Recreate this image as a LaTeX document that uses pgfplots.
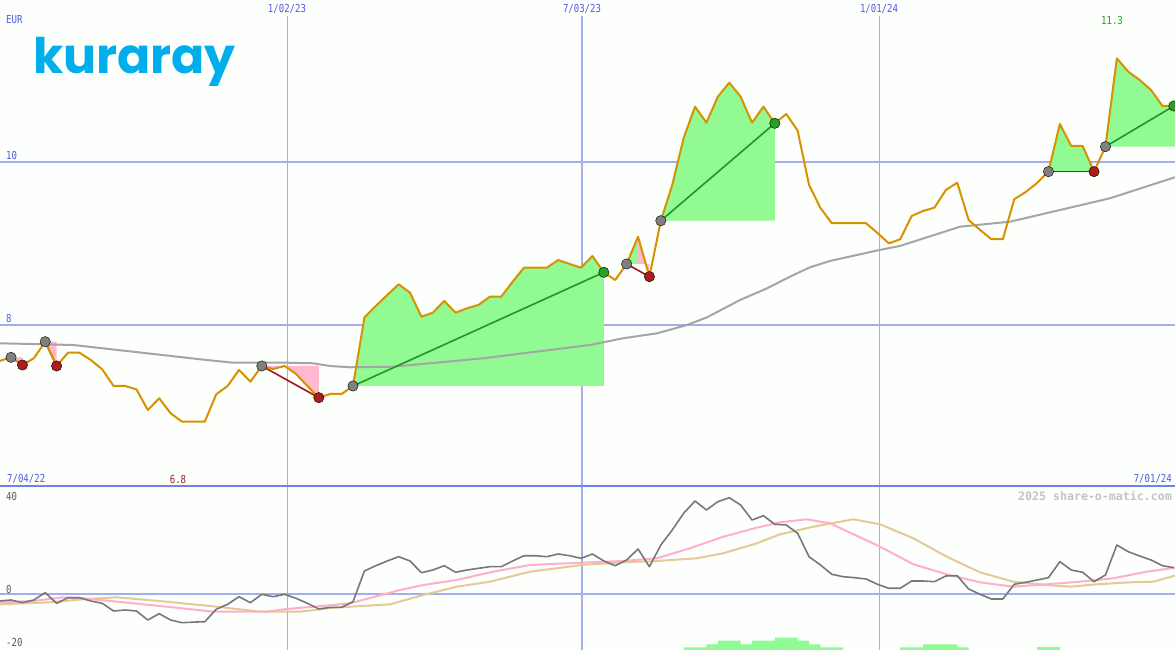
\documentclass[border=0pt]{standalone}
\usepackage{pgfplots}
\pgfplotsset{compat=1.18}
\usepackage{fontspec}
\newfontfamily\pixfont[FakeStretch=0.82]{DejaVu Sans Mono}
\newfontfamily\wmfont{DejaVu Sans Mono}
\newfontfamily\logofont{Poppins}
\definecolor{bg}{RGB}{252,255,252}
\definecolor{gridblue}{RGB}{162,174,240}
\definecolor{sepblue}{RGB}{112,128,236}
\definecolor{lblblue}{RGB}{80,90,225}
\definecolor{pricecol}{RGB}{214,146,0}
\definecolor{magray}{RGB}{165,165,165}
\definecolor{gainfill}{RGB}{146,250,146}
\definecolor{lossfill}{RGB}{255,184,204}
\definecolor{gainline}{RGB}{34,150,34}
\definecolor{lossline}{RGB}{160,24,24}
\definecolor{entrygray}{RGB}{128,128,128}
\definecolor{exitred}{RGB}{170,30,30}
\definecolor{exitgreen}{RGB}{40,160,40}
\definecolor{oscgray}{RGB}{120,120,120}
\definecolor{oscpink}{RGB}{255,176,200}
\definecolor{osctan}{RGB}{228,202,150}
\definecolor{logocol}{RGB}{0,174,235}
\definecolor{wmgray}{RGB}{195,195,195}
\definecolor{lblgray}{RGB}{90,90,90}

\pgfplotstableread{
k v
0 7.559
1 7.604
2 7.510
3 7.592
4 7.795
5 7.498
6 7.661
7 7.661
8 7.571
9 7.457
10 7.253
11 7.253
12 7.212
13 6.959
14 7.102
15 6.919
16 6.816
17 6.816
18 6.816
19 7.151
20 7.253
21 7.449
22 7.306
23 7.498
24 7.461
25 7.498
26 7.400
27 7.253
28 7.110
29 7.155
30 7.155
31 7.253
32 8.094
33 8.233
34 8.367
35 8.498
36 8.396
37 8.102
38 8.151
39 8.294
40 8.151
41 8.205
42 8.245
43 8.347
44 8.347
45 8.530
46 8.702
47 8.702
48 8.702
49 8.796
50 8.747
51 8.702
52 8.845
53 8.645
54 8.551
55 8.747
56 9.081
57 8.592
58 9.277
59 9.715
60 10.290
61 10.674
62 10.478
63 10.796
64 10.968
65 10.796
66 10.478
67 10.674
68 10.470
69 10.584
70 10.380
71 9.715
72 9.433
73 9.246
74 9.246
75 9.246
76 9.246
77 9.127
78 9.000
79 9.050
80 9.335
81 9.396
82 9.437
83 9.653
84 9.743
85 9.286
86 9.164
87 9.050
88 9.050
89 9.540
90 9.628
91 9.739
92 9.878
93 10.462
94 10.192
95 10.192
96 9.878
97 10.184
98 11.266
99 11.102
100 11.000
101 10.878
102 10.682
103 10.682
}\price

\pgfplotstableread{
k v
0 7.776
6.44 7.755
11.70 7.673
17.58 7.580
20.47 7.538
25.21 7.538
27.49 7.531
28.98 7.498
30.74 7.482
34.51 7.489
42.40 7.592
51.79 7.755
54.68 7.837
57.67 7.898
60.30 8.000
62.05 8.094
64.95 8.306
67.32 8.449
69.33 8.592
71.09 8.707
72.84 8.784
77.23 8.920
78.98 8.968
84.25 9.204
88.63 9.265
92.40 9.388
97.40 9.552
103.1 9.809
}\mavg

\pgfplotstableread{
k v
0 -2.79
1 -2.38
2 -3.50
3 -2.38
4 0.67
5 -3.75
6 -1.42
7 -1.42
8 -2.79
9 -3.75
10 -6.96
11 -6.54
12 -6.96
13 -10.71
14 -8.08
15 -10.71
16 -11.83
17 -11.60
18 -11.42
19 -6.25
20 -4.17
21 -1.00
22 -3.50
23 0.00
24 -1.00
25 0.00
26 -1.67
27 -3.75
28 -6.13
29 -5.42
30 -5.42
31 -3.08
32 9.71
33 11.92
34 13.88
35 15.67
36 13.88
37 9.00
38 10.13
39 11.92
40 9.17
41 10.13
42 10.83
43 11.50
44 11.50
45 13.88
46 16.08
47 16.08
48 15.67
49 16.79
50 16.08
51 15.00
52 16.79
53 13.88
54 11.92
55 14.29
56 18.88
57 11.50
58 20.54
59 26.79
60 33.75
61 38.88
62 35.13
63 38.58
64 40.25
65 37.21
66 30.96
67 32.75
68 29.17
69 28.88
70 25.42
71 15.67
72 12.21
73 8.33
74 7.33
75 6.92
76 6.38
77 4.17
78 2.50
79 2.50
80 5.54
81 5.54
82 5.25
83 7.63
84 7.75
85 2.21
86 0.00
87 -1.96
88 -1.96
89 4.17
90 5.00
91 5.96
92 6.92
93 13.58
94 10.13
95 9.17
96 5.25
97 8.04
98 20.54
99 17.75
100 15.96
101 14.29
102 11.92
103 11.08
}\osc

\pgfplotstableread{
k v
0 -3.33
2.96 -2.79
5.59 -1.25
7.34 -1.67
11.73 -3.75
14.66 -5.17
18.75 -7.25
23.43 -7.25
25.18 -6.13
29.27 -4.46
30.74 -3.75
34.25 0.67
35.12 1.79
37.17 3.88
40.10 5.96
43.02 9.17
46.53 12.21
51.06 13.17
54.71 13.88
57.64 15.00
60.56 19.17
63.48 24.00
66.41 27.75
68.46 30.00
70.80 31.25
72.84 29.58
77.23 19.83
80.15 12.50
83.08 8.33
85.99 5.00
88.92 3.17
91.85 4.17
94.77 5.25
97.69 6.67
100.62 9.42
103.1 11.08
}\oscpinkt

\pgfplotstableread{
k v
0 -4.17
4.42 -3.33
7.34 -2.08
10.27 -1.25
14.66 -3.08
19.04 -5.17
22.84 -7.25
26.35 -7.25
29.27 -5.58
32.20 -4.75
34.25 -4.17
37.17 -0.29
40.10 3.17
43.02 5.25
46.53 9.42
51.06 12.21
54.71 13.33
57.64 13.88
61.15 15.00
63.48 17.08
66.41 21.25
68.46 25.00
71.38 28.17
74.89 31.25
77.23 29.17
80.15 23.33
83.08 15.67
85.99 9.17
88.92 5.25
91.85 3.88
93.90 3.17
96.24 4.17
99.16 5.00
101.20 5.25
103.1 7.75
}\osctant

\pgfplotsset{panel/.style={scale only axis, axis line style={draw=none}, ticks=none,
  xmin=0.035, xmax=103.1, width=1175pt}}

\begin{document}
\begin{tikzpicture}[x=1pt,y=1pt]
\useasboundingbox (0pt,0pt) rectangle (1175pt,650pt);
\fill[bg] (0pt,0pt) rectangle (1175pt,650pt);
% grid lines
\draw[gridblue, line width=2pt] (0pt,488.3pt) -- (1175pt,488.3pt);
\draw[gridblue, line width=2pt] (0pt,325pt) -- (1175pt,325pt);
\draw[gridblue, line width=2pt] (0pt,55.7pt) -- (1175pt,55.7pt);
\draw[gridblue, line width=1pt] (287pt,0pt) -- (287pt,634pt);
\draw[gridblue, line width=2pt] (582pt,0pt) -- (582pt,634pt);
\draw[gridblue, line width=1pt] (879pt,0pt) -- (879pt,634pt);

\begin{axis}[panel, at={(0pt,650pt)}, anchor=north west, height=487pt,
  ymin=6.016, ymax=11.98]
% trade fills
\addplot[fill=lossfill, draw=none] coordinates {(1,7.604) (2,7.510) (2,7.604)};
\addplot[fill=lossfill, draw=none] coordinates {(4,7.795) (5,7.498) (5,7.795)};
\addplot[fill=lossfill, draw=none] coordinates {(23,7.498) (24,7.461) (25,7.498) (26,7.400) (27,7.253) (28,7.110) (28,7.498)};
\addplot[fill=gainfill, draw=none] coordinates {(31,7.253) (32,8.094) (33,8.233) (34,8.367) (35,8.498) (36,8.396) (37,8.102) (38,8.151) (39,8.294) (40,8.151) (41,8.205) (42,8.245) (43,8.347) (44,8.347) (45,8.530) (46,8.702) (47,8.702) (48,8.702) (49,8.796) (50,8.747) (51,8.702) (52,8.845) (53,8.645) (53,7.253)};
\addplot[fill=gainfill, draw=none] coordinates {(55,8.747) (56,9.081) (56,8.747)};
\addplot[fill=lossfill, draw=none] coordinates {(56,9.081) (56.683,8.747) (56,8.747)};
\addplot[fill=lossfill, draw=none] coordinates {(56.683,8.747) (57,8.592) (57,8.747)};
\addplot[fill=gainfill, draw=none] coordinates {(58,9.277) (59,9.715) (60,10.290) (61,10.674) (62,10.478) (63,10.796) (64,10.968) (65,10.796) (66,10.478) (67,10.674) (68,10.470) (68,9.277)};
\addplot[fill=gainfill, draw=none] coordinates {(92,9.878) (93,10.462) (94,10.192) (95,10.192) (96,9.878)};
\addplot[fill=gainfill, draw=none] coordinates {(97,10.184) (98,11.266) (99,11.102) (100,11.000) (101,10.878) (102,10.682) (103,10.682) (103.1,10.682) (103.1,10.184)};
% moving average
\addplot[magray, line width=2pt] table[x=k,y=v] {\mavg};
% trade connectors
\addplot[lossline, line width=1.6pt] coordinates {(1,7.604) (2,7.510)};
\addplot[lossline, line width=1.6pt] coordinates {(4,7.795) (5,7.498)};
\addplot[lossline, line width=1.6pt] coordinates {(23,7.498) (28,7.110)};
\addplot[gainline, line width=1.6pt] coordinates {(31,7.253) (53,8.645)};
\addplot[lossline, line width=1.6pt] coordinates {(55,8.747) (57,8.592)};
\addplot[gainline, line width=1.6pt] coordinates {(58,9.277) (68,10.470)};
\addplot[lossline, line width=1.6pt] coordinates {(92,9.878) (96,9.878)};
\addplot[gainline, line width=1.6pt] coordinates {(97,10.184) (103,10.682)};
% markers
\addplot[only marks, mark=*, mark size=5.2pt, mark options={draw=none, fill=entrygray}] coordinates {(1,7.604) (4,7.795) (23,7.498) (31,7.253) (55,8.747) (58,9.277) (92,9.878) (97,10.184)};
\addplot[only marks, mark=*, mark size=5.2pt, mark options={draw=none, fill=exitred}] coordinates {(2,7.510) (5,7.498) (28,7.110) (57,8.592) (96,9.878)};
\addplot[only marks, mark=*, mark size=5.2pt, mark options={draw=none, fill=exitgreen}] coordinates {(53,8.645) (68,10.470) (103,10.682)};
% price
\addplot[pricecol, line width=2pt, line join=round] table[x=k,y=v] {\price};
\end{axis}

\begin{axis}[panel, at={(0pt,163pt)}, anchor=north west, height=163pt,
  ymin=-23.21, ymax=44.71]
\addplot[fill=gainfill, draw=none] coordinates {(60,-23.21) (60,-22.08) (62,-22.08) (62,-20.83) (63,-20.83) (63,-19.33) (65,-19.33) (65,-20.83) (66,-20.83) (66,-19.33) (68,-19.33) (68,-18.08) (70,-18.08) (70,-19.33) (71,-19.33) (71,-20.83) (72,-20.83) (72,-22.08) (74,-22.08) (74,-23.21)};
\addplot[fill=gainfill, draw=none] coordinates {(79,-23.21) (79,-22.08) (81,-22.08) (81,-20.83) (84,-20.83) (84,-22.08) (85,-22.08) (85,-23.21)};
\addplot[fill=gainfill, draw=none] coordinates {(91,-23.21) (91,-22.08) (93,-22.08) (93,-23.21)};
\addplot[osctan, line width=2pt] table[x=k,y=v] {\osctant};
\addplot[oscpink, line width=2pt] table[x=k,y=v] {\oscpinkt};
\addplot[oscgray, line width=1.6pt, line join=round] table[x=k,y=v] {\osc};
\end{axis}

\draw[sepblue, line width=2pt] (0pt,163.5pt) -- (1175pt,163.5pt);

% texts
\begin{scope}[every node/.style={inner sep=0pt, font=\pixfont\fontsize{11}{11}\selectfont}]
\node[lblblue, anchor=west] at (6pt,630pt) {EUR};
\node[lblblue, anchor=west] at (6pt,494pt) {10};
\node[lblblue, anchor=west] at (6pt,331pt) {8};
\node[lblblue] at (287pt,641pt) {1/02/23};
\node[lblblue] at (582pt,641pt) {7/03/23};
\node[lblblue] at (879pt,641pt) {1/01/24};
\node[text=exitgreen] at (1112pt,629pt) {11.3};
\node[text=exitred] at (178pt,171pt) {6.8};
\node[lblblue, anchor=west] at (7pt,171pt) {7/04/22};
\node[lblblue, anchor=east] at (1172pt,171pt) {7/01/24};
\node[lblgray, anchor=west] at (6pt,154pt) {40};
\node[lblgray, anchor=west] at (6pt,61pt) {0};
\node[lblgray, anchor=west] at (6pt,8pt) {-20};
\end{scope}
\node[wmgray, anchor=east, inner sep=0pt, font=\wmfont\bfseries\fontsize{11.6}{12}\selectfont] at (1172pt,154.5pt) {2025 share-o-matic.com};
\node[logocol, anchor=base west, inner sep=0pt, font=\logofont\bfseries\fontsize{49}{49}\selectfont] at (33pt,576pt) {kuraray};
\end{tikzpicture}
\end{document}
